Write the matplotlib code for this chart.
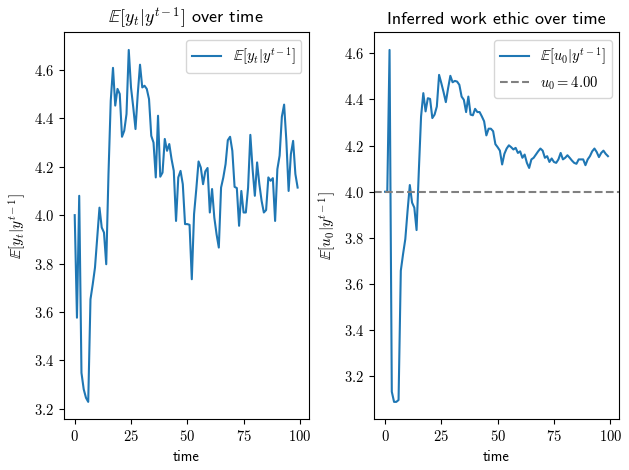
import matplotlib
matplotlib.use("Agg")
import matplotlib.pyplot as plt
from matplotlib.ticker import FuncFormatter, MultipleLocator

plt.rcParams["mathtext.fontset"] = "cm"
plt.rcParams["font.family"] = ["cmss10", "DejaVu Sans"]
plt.rcParams["axes.formatter.use_mathtext"] = True

# Expected next observation E[y_t | y^{t-1}], t = 0..99
y_pred = [4.00, 3.576, 4.08, 3.348, 3.28, 3.245, 3.228, 3.652, 3.714, 3.783,
          3.907, 4.031, 3.949, 3.928, 3.797, 4.17, 4.473, 4.609, 4.453, 4.522,
          4.501, 4.324, 4.349, 4.418, 4.683, 4.528, 4.446, 4.356, 4.501, 4.622,
          4.528, 4.535, 4.522, 4.48, 4.328, 4.30, 4.156, 4.411, 4.159, 4.176,
          4.315, 4.266, 4.294, 4.232, 4.183, 3.976, 4.156, 4.183, 4.128, 3.963,
          3.963, 3.96, 3.735, 4.004, 4.108, 4.222, 4.197, 4.128, 4.181, 4.195,
          4.011, 4.108, 3.99, 3.921, 3.866, 4.114, 4.156, 4.211, 4.31, 4.324,
          4.266, 4.117, 4.112, 3.956, 4.10, 4.011, 4.011, 4.114, 4.332, 4.19,
          4.08, 4.218, 4.128, 4.059, 4.011, 4.021, 4.156, 4.142, 4.153, 3.976,
          4.19, 4.246, 4.407, 4.457, 4.307, 4.10, 4.252, 4.307, 4.17, 4.114]

# Inferred work ethic E[u_0 | y^{t-1}], t = 0..99
u_post = [4.00, 4.00, 4.614, 3.134, 3.09, 3.09, 3.098, 3.658, 3.73, 3.795,
          3.917, 4.029, 3.953, 3.931, 3.834, 4.089, 4.326, 4.427, 4.348, 4.405,
          4.402, 4.319, 4.334, 4.369, 4.506, 4.47, 4.431, 4.388, 4.448, 4.502,
          4.474, 4.48, 4.477, 4.463, 4.412, 4.398, 4.345, 4.412, 4.334, 4.331,
          4.359, 4.345, 4.345, 4.326, 4.305, 4.244, 4.273, 4.273, 4.262, 4.206,
          4.193, 4.178, 4.118, 4.164, 4.187, 4.201, 4.193, 4.183, 4.19, 4.168,
          4.175, 4.147, 4.161, 4.125, 4.103, 4.14, 4.147, 4.161, 4.175, 4.187,
          4.178, 4.147, 4.154, 4.129, 4.144, 4.129, 4.125, 4.14, 4.168, 4.14,
          4.147, 4.158, 4.147, 4.135, 4.125, 4.121, 4.14, 4.14, 4.14, 4.115,
          4.14, 4.154, 4.175, 4.187, 4.172, 4.15, 4.168, 4.178, 4.164, 4.154]

u0_true = 4.00
t = list(range(len(y_pred)))

fig, (ax1, ax2) = plt.subplots(1, 2, figsize=(6.29, 4.70), dpi=100)

ax1.plot(t, y_pred, label=r"$\mathbb{E}[y_t|y^{t-1}]$")
ax1.set_title(r"$\mathbb{E}[y_t|y^{t-1}]$ over time", fontsize=13)
ax1.set_xlabel("time", fontsize=10.5)
ax1.set_ylabel(r"$\mathbb{E}[y_t|y^{t-1}]$", fontsize=11)
ax1.legend(loc="upper right", fontsize=10.5)

ax2.plot(t, u_post, label=r"$\mathbb{E}[u_0|y^{t-1}]$")
ax2.axhline(u0_true, color="gray", ls="--", label=r"$u_0 = %.2f$" % u0_true)
ax2.set_title("Inferred work ethic over time", fontsize=13)
ax2.set_xlabel("time", fontsize=10.5)
ax2.set_ylabel(r"$\mathbb{E}[u_0|y^{t-1}]$", fontsize=11)
ax2.legend(loc="upper right", fontsize=10.5)

for ax in (ax1, ax2):
    ax.xaxis.set_major_locator(MultipleLocator(25))
    ax.yaxis.set_major_locator(MultipleLocator(0.2))
    ax.xaxis.set_major_formatter(FuncFormatter(lambda v, p: r"$%d$" % v))
    ax.yaxis.set_major_formatter(FuncFormatter(lambda v, p: r"$%.1f$" % v))
    ax.tick_params(labelsize=10.5)

plt.tight_layout(pad=0.45, w_pad=0.3)
plt.savefig("out.png")
